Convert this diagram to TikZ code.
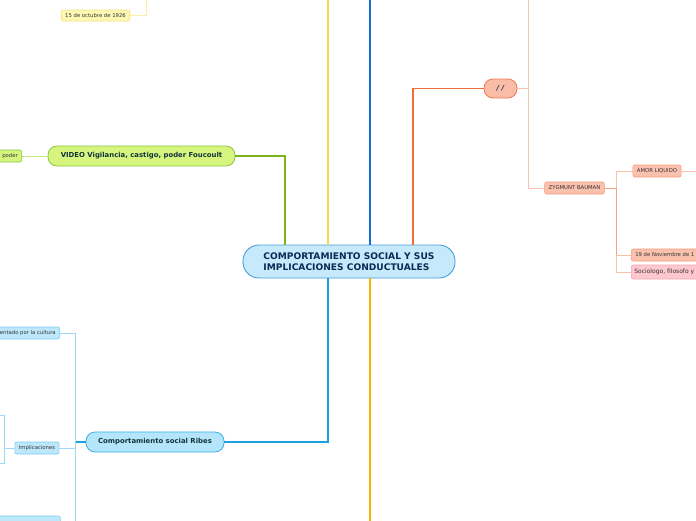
\documentclass[tikz,border=0pt]{standalone}
\usepackage{fontspec}
\setmainfont{DejaVu Sans}
\definecolor{cfill}{HTML}{C6E9FB}
\definecolor{cdraw}{HTML}{4A9FD8}
\definecolor{cnavy}{HTML}{0B2A55}
\definecolor{gfill}{HTML}{D6F57E}
\definecolor{gdraw}{HTML}{8CC63F}
\definecolor{gline}{HTML}{7BB51A}
\definecolor{gline2}{HTML}{C4E97C}
\definecolor{yline}{HTML}{F3D94A}
\definecolor{yline2}{HTML}{FBEFA3}
\definecolor{yfill}{HTML}{FFF8B5}
\definecolor{ydraw}{HTML}{F5E07A}
\definecolor{bline}{HTML}{0E6FD6}
\definecolor{oline}{HTML}{F26B3A}
\definecolor{ofill}{HTML}{F9BCA6}
\definecolor{odraw}{HTML}{F27A50}
\definecolor{oline2}{HTML}{FBC1AE}
\definecolor{otree}{HTML}{F8A180}
\definecolor{sfill}{HTML}{FAC1AE}
\definecolor{sdraw}{HTML}{F59A7A}
\definecolor{pfill}{HTML}{FFC7D0}
\definecolor{pdraw}{HTML}{F5A3B5}
\definecolor{lbline}{HTML}{1BA1E2}
\definecolor{lbline2}{HTML}{9FD8F5}
\definecolor{lbfill}{HTML}{B5E5FB}
\definecolor{lbdraw}{HTML}{3BB0E6}
\definecolor{lbsfill}{HTML}{BDE8FB}
\definecolor{lbsdraw}{HTML}{7CCCF2}
\definecolor{ybline}{HTML}{F7B500}
\definecolor{ctext}{HTML}{333333}
\definecolor{dtext}{HTML}{13343A}
\tikzset{
  bigpill/.style={draw=cdraw, fill=cfill, line width=0.9pt, rounded corners=16pt, minimum width=212pt, minimum height=33pt, inner sep=0pt, align=left, font=\fontsize{9.1}{11}\selectfont\bfseries, text=cnavy},
  midpill/.style={line width=0.8pt, rounded corners=9pt, minimum height=20pt, inner sep=0pt, font=\fontsize{6.9}{8}\selectfont\bfseries, text=dtext},
  small/.style={line width=0.6pt, rounded corners=2pt, minimum height=12pt, inner xsep=4pt, inner ysep=0pt, font=\fontsize{5.3}{6}\selectfont, text=ctext},
  main/.style={line width=1.3pt},
  sub/.style={line width=0.9pt}
}
\begin{document}
\begin{tikzpicture}[x=1pt,y=-1pt]
\useasboundingbox (0,0) rectangle (696,520);
\clip (0,0) rectangle (696,520);
% nodes
\node[bigpill] (center) at (349,261.5) {COMPORTAMIENTO SOCIAL Y SUS\\IMPLICACIONES CONDUCTUALES};
\node[midpill, draw=gdraw, fill=gfill, minimum width=187pt] (video) at (141.5,156) {VIDEO Vigilancia, castigo, poder Foucoult};
\node[small, draw=gdraw, fill=gfill, anchor=east] (poder) at (22,156) {poder};
\node[small, draw=ydraw, fill=yfill, minimum height=11pt] (oct) at (95.5,15.5) {15 de octubre de 1926};
\node[midpill, draw=odraw, fill=ofill, minimum width=33pt, minimum height=19pt, font=\fontsize{7}{8}\selectfont\bfseries\itshape] (slash) at (500.5,88.5) {/ /};
\node[small, draw=sdraw, fill=sfill] (zyg) at (574.5,188) {ZYGMUNT BAUMAN};
\node[small, draw=sdraw, fill=sfill] (amor) at (657,171) {AMOR LIQUIDO};
\node[small, draw=sdraw, fill=sfill, anchor=west] (nov) at (631,255) {19 de Noviembre de 1\hspace*{20pt}};
\node[small, draw=pdraw, fill=pfill, anchor=west, minimum height=14pt, inner xsep=3pt, font=\fontsize{6.0}{7}\selectfont] (soc) at (631,272) {Sociologo, filosofo y\hspace*{20pt}};
\node[midpill, draw=lbdraw, fill=lbfill, minimum width=138pt] (ribes) at (155,442) {Comportamiento social Ribes};
\node[small, draw=lbsdraw, fill=lbsfill, anchor=east] (cult) at (60,333) {\hspace*{20pt}entado por la cultura};
\node[small, draw=lbsdraw, fill=lbsfill] (impl) at (37,448) {Implicaciones};
\node[small, draw=lbsdraw, fill=lbsfill, anchor=west, minimum width=70pt, minimum height=14pt] (bot) at (-10,523) {};
% coordinates
\coordinate (g1) at (285,0);
\coordinate (ytop) at (328,0);
\coordinate (btop) at (370,0);
\coordinate (o1) at (413,0);
\coordinate (r1) at (528,-2);
\coordinate (r2) at (616,0);
\coordinate (rr) at (700,171);
\coordinate (y1) at (146,-2);
\coordinate (b1) at (328,0);
\coordinate (o2b) at (370,525);
\coordinate (l1b) at (75,525);
\coordinate (k0a) at (-2,415);
\coordinate (k1) at (4,415);
\coordinate (k2) at (4,463);
\coordinate (k0b) at (-2,463);
% connectors
\draw[main, gline] (video.east) -| (center.north -| g1);
\draw[main, yline] (ytop) -- (center.north -| ytop);
\draw[main, bline] (btop) -- (center.north -| btop);
\draw[main, oline] (slash.west) -| (center.north -| o1);
\draw[sub, oline2] (slash.east) -- (slash.east -| r1);
\draw[sub, oline2] (r1) |- (zyg.west);
\draw[sub, otree] (zyg.east) -- (zyg.east -| r2);
\draw[sub, oline2] (amor.west) -- (amor.west -| r2) -- (soc.west -| r2) -- (soc.west);
\draw[sub, oline2] (nov.west) -- (nov.west -| r2);
\draw[sub, otree] (zyg.east -| r2) -- (nov.west -| r2);
\draw[sub, oline2] (amor.east) -- (rr);
\draw[sub, yline2] (oct.east) -| (y1);
\draw[sub, gline2] (video.west) -- (poder.east);
\draw[main, lbline] (center.south -| b1) |- (ribes.east);
\draw[main, ybline] (center.south -| o2b) -- (o2b);
\draw[main, lbline] (ribes.west) -- (ribes.west -| l1b);
\draw[sub, lbline2] (cult.east) -| (l1b);
\draw[sub, lbline2] (impl.east) -- (impl.east -| l1b);
\draw[sub, lbline2] (k0a) -- (k1) -- (k2) -- (k0b);
\draw[sub, lbline2] (impl.west) -- (impl.west -| k1);
\end{tikzpicture}
\end{document}
